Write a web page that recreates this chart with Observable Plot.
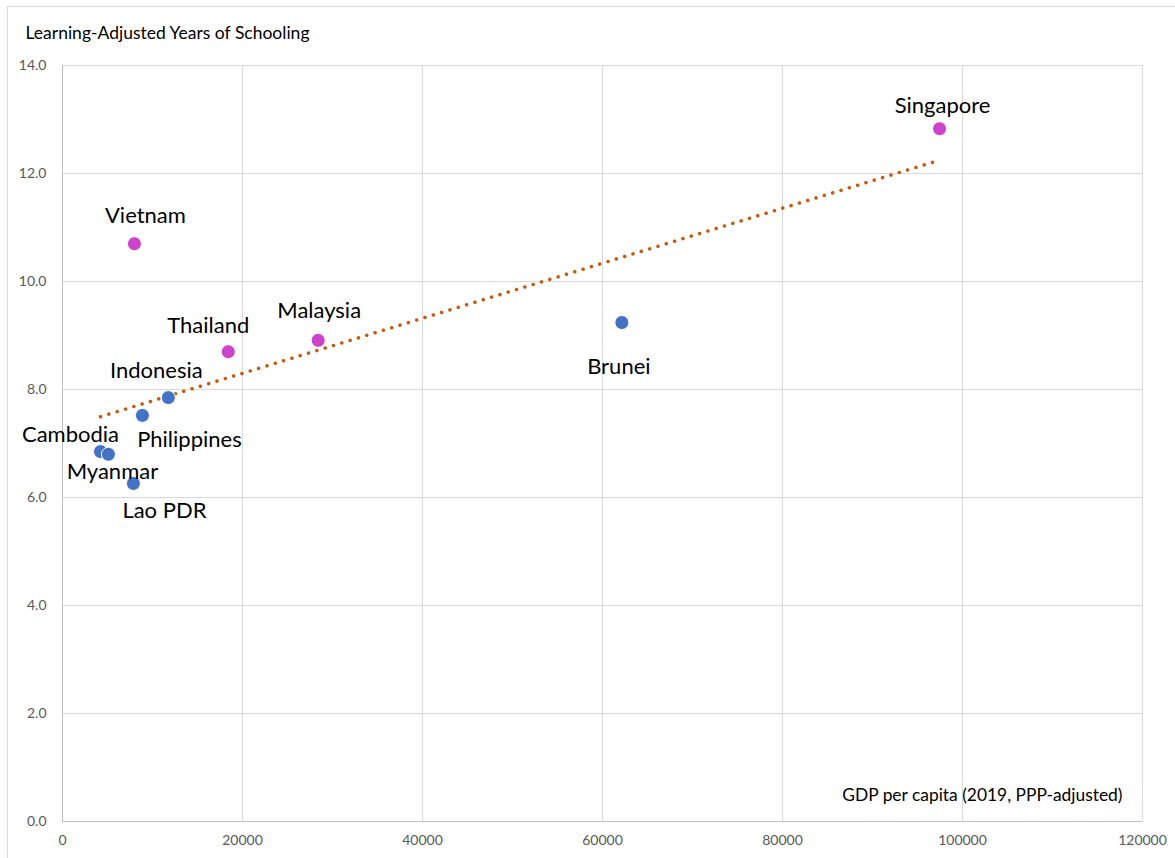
<!DOCTYPE html>
<html><head><meta charset="utf-8">
<script src="https://cdn.jsdelivr.net/npm/d3@7"></script>
<script src="https://cdn.jsdelivr.net/npm/@observablehq/plot@0.6"></script>
<style>
body{margin:0;background:#fff;overflow:hidden;}
#frame{position:absolute;left:7px;top:6px;width:1300px;height:1000px;border:1px solid #d9d9d9;}
#chart{position:absolute;left:0;top:0;}
</style></head><body><div id="frame"></div><div id="chart"></div>
<script>
const countries = ["Singapore","Vietnam","Thailand","Malaysia","Brunei","Indonesia","Philippines","Cambodia","Myanmar","Lao PDR"];
const gdpPerCapita = [97450, 7990, 18420, 28410, 62150, 11760, 8880, 4220, 5100, 7880];
const lays = [12.83, 10.70, 8.70, 8.91, 9.24, 7.85, 7.52, 6.85, 6.80, 6.26];
const groups = ["Above trend","Above trend","Above trend","Above trend","Below trend","Below trend","Below trend","Below trend","Below trend","Below trend"];
const xTicks = [0, 20000, 40000, 60000, 80000, 100000, 120000];
const yTicks = [0, 2, 4, 6, 8, 10, 12, 14];
const xTitle = "GDP per capita (2019, PPP-adjusted)";
const yTitle = "Learning-Adjusted Years of Schooling";

// label placement (pixel offsets from each point)
const labelOffsets = {
  "Singapore": [3, -23], "Vietnam": [11, -28], "Thailand": [-20, -26], "Malaysia": [1, -29],
  "Brunei": [-3, 44], "Indonesia": [-12, -27], "Philippines": [47, 25], "Cambodia": [-30, -17],
  "Myanmar": [4, 18], "Lao PDR": [31, 27]
};

const data = countries.map((c, i) => ({country: c, gdp: gdpPerCapita[i], lays: lays[i], group: groups[i]}));

const font = "Lato, 'Open Sans', sans-serif";
const labelMarks = data.map(d => Plot.text([d], {
  x: "gdp", y: "lays", text: "country",
  dx: labelOffsets[d.country][0], dy: labelOffsets[d.country][1],
  fontSize: 22, fill: "#000", fontFamily: font
}));

const chart = Plot.plot({
  width: 1175, height: 858,
  marginLeft: 62, marginRight: 33, marginTop: 65, marginBottom: 37,
  style: {fontFamily: font, background: "transparent"},
  x: {domain: [0, 120000], ticks: xTicks, tickFormat: d => String(d), label: null},
  y: {domain: [0, 14], ticks: yTicks, tickFormat: d => d.toFixed(1), label: null},
  color: {domain: ["Above trend","Below trend"], range: ["#cc44cc","#4472c4"]},
  marks: [
    Plot.gridX(xTicks, {stroke: "#d9d9d9", strokeOpacity: 1}),
    Plot.gridY(yTicks, {stroke: "#d9d9d9", strokeOpacity: 1}),
    Plot.ruleX([0], {stroke: "#bfbfbf"}),
    Plot.ruleY([0], {stroke: "#bfbfbf"}),
    Plot.axisX(xTicks, {tickSize: 0, tickPadding: 14, fontSize: 14, fill: "#595959", label: null, tickFormat: d => String(d)}),
    Plot.axisY(yTicks, {tickSize: 0, tickPadding: 16, fontSize: 14, fill: "#595959", label: null, tickFormat: d => d.toFixed(1)}),
    Plot.linearRegressionY(data, {x: "gdp", y: "lays", ci: 0, stroke: "#c55a11", strokeWidth: 3.5, strokeDasharray: "0.1 8.6", strokeLinecap: "round"}),
    Plot.dot(data, {x: "gdp", y: "lays", fill: "group", r: 7, stroke: "#fff", strokeWidth: 1}),
    ...labelMarks,
    Plot.text([yTitle], {frameAnchor: "top-left", dx: -37, dy: -39, fontSize: 17.5, textAnchor: "start", fill: "#000", fontFamily: font}),
    Plot.text([xTitle], {frameAnchor: "bottom-right", dx: -20, dy: -21, fontSize: 17.4, textAnchor: "end", fill: "#000", fontFamily: font})
  ]
});
document.getElementById("chart").appendChild(chart);
</script></body></html>
